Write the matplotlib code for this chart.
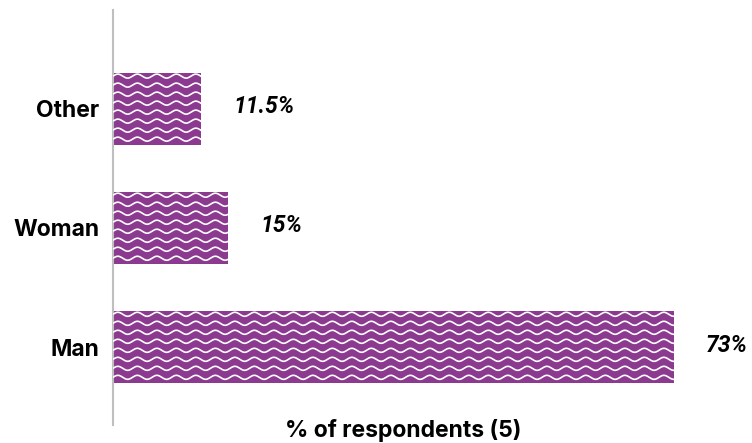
import numpy as np
import matplotlib
matplotlib.use("Agg")
import matplotlib.pyplot as plt

categories = ["Man", "Woman", "Other"]
values = [73, 15, 11.5]
value_labels = ["73%", "15%", "11.5%"]
xlabel = "% of respondents (5)"

bar_color = "#8B3A8F"

plt.rcParams['font.family'] = ['Inter', 'DejaVu Sans']

W, H = 752, 443
fig = plt.figure(figsize=(W / 100, H / 100), dpi=100)
ax = fig.add_axes([113 / W, 1 - 425 / H, (745 - 113) / W, (425 - 10) / H])

ypos = np.arange(len(categories))
bars = ax.barh(ypos, values, height=0.6, color=bar_color, zorder=2)

ax.set_xlim(0, (745 - 113) / 7.685)
ax.set_ylim(-0.655, 2.83)

# wavy white hatch, clipped to each bar
xmax = ax.get_xlim()[1]
xs = np.linspace(0, xmax, 2000)
px_per_x = (745 - 113) / xmax
px_per_y = 119.0
period = 19.5 / px_per_x
amp = 2.0 / px_per_y
spacing = 9.0 / px_per_y
for b in bars:
    y0 = b.get_y()
    y1 = y0 + b.get_height()
    yc = y0 + spacing * 0.6
    while yc < y1 + amp:
        ln, = ax.plot(xs, yc + amp * np.sin(2 * np.pi * xs / period),
                      color="white", lw=1.2, zorder=3, solid_capstyle="butt")
        ln.set_clip_path(b)
        yc += spacing

for b, lab in zip(bars, value_labels):
    ax.annotate(lab, (b.get_width(), b.get_y() + b.get_height() / 2),
                xytext=(32, 2), textcoords="offset pixels",
                ha="left", va="center", fontsize=16.5, fontweight="bold",
                fontstyle="italic", family=["Roboto", "DejaVu Sans"],
                color="black")

ax.set_yticks(ypos)
ax.set_yticklabels(categories, fontsize=16.5, fontweight="bold")
ax.tick_params(axis="y", length=0, pad=10)
ax.set_xticks([])
for s in ["top", "right", "bottom"]:
    ax.spines[s].set_visible(False)
ax.spines["left"].set_color("#BFBFBF")
ax.spines["left"].set_linewidth(1.5)

ax.set_xlabel(xlabel, fontsize=16.5, fontweight="bold")
ax.xaxis.set_label_coords((403 - 113) / (745 - 113), (425 - 437) / 415,
                          transform=ax.transAxes)
ax.xaxis.label.set_va("baseline")

fig.savefig("out.png", dpi=100)
